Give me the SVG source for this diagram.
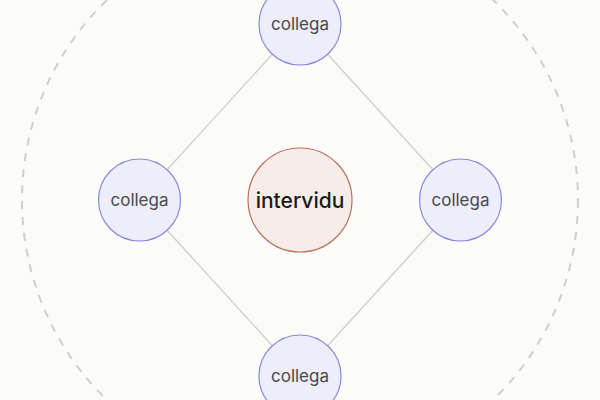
<svg xmlns="http://www.w3.org/2000/svg" width="600" height="400" viewBox="0 0 600 400">
<style>
.ring{fill:none;stroke:#d0cfcc;stroke-width:2;stroke-dasharray:8 8}
.edge{stroke:#d2d1cf;stroke-width:1.5;fill:none}
.peer circle{fill:#ededfb;stroke:#8e86dc;stroke-width:1.2}
.peer text{font-family:Inter,"Noto Sans",sans-serif;font-size:17px;fill:#4a4a4a;text-anchor:middle;dominant-baseline:central}
.hub circle{fill:#f8ece8;stroke:#b9715c;stroke-width:1.2}
.hub text{font-family:Inter,"Noto Sans",sans-serif;font-size:21px;font-weight:500;fill:#1b1b1b;text-anchor:middle;dominant-baseline:central}
</style>
<rect width="600" height="400" fill="#fbfbfa"/>
<circle class="ring" cx="300" cy="200" r="278"/>
<g id="connectors">
<line class="edge" x1="300" y1="24" x2="139.5" y2="200"/>
<line class="edge" x1="300" y1="24" x2="460.5" y2="200"/>
<line class="edge" x1="139.5" y1="200" x2="300" y2="376"/>
<line class="edge" x1="460.5" y1="200" x2="300" y2="376"/>
</g>
<g id="hub" class="hub"><circle cx="300" cy="200" r="52"/><text x="300" y="200">intervidu</text></g>
<g id="peer-top" class="peer"><circle cx="300" cy="24" r="41"/><text x="300" y="24">collega</text></g>
<g id="peer-left" class="peer"><circle cx="139.5" cy="200" r="41"/><text x="139.5" y="200">collega</text></g>
<g id="peer-right" class="peer"><circle cx="460.5" cy="200" r="41"/><text x="460.5" y="200">collega</text></g>
<g id="peer-bottom" class="peer"><circle cx="300" cy="376" r="41"/><text x="300" y="376">collega</text></g>
</svg>
